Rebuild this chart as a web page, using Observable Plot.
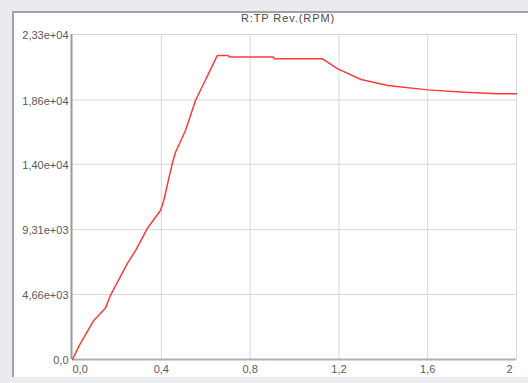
<!DOCTYPE html>
<html>
<head>
<meta charset="utf-8">
<script src="https://cdn.jsdelivr.net/npm/d3@7"></script>
<script src="https://cdn.jsdelivr.net/npm/@observablehq/plot@0.6"></script>
<style>
  html, body { margin: 0; padding: 0; }
  body { width: 528px; height: 383px; background: #ebebef; position: relative; overflow: hidden; font-family: "Liberation Sans", Arial, sans-serif; }
  #panel { position: absolute; left: 12px; top: 11px; width: 516px; height: 366px; background: #fff; border-top: 2px solid #a2a2a6; border-left: 2px solid #a2a2a6; box-sizing: border-box; }
  #chart { position: absolute; left: 0; top: 0; }
  #title { position: absolute; left: 0; width: 576px; top: 12px; text-align: center; font-size: 11px; letter-spacing: 0.9px; color: #4a4a4a; }
</style>
</head>
<body>
<div id="panel"></div>
<div id="title">R:TP Rev.(RPM)</div>
<div id="chart"></div>
<script>
// Time axis (s) and R:TP Rev. (RPM) values
const timeValues = [0, 0.03, 0.096, 0.149, 0.171, 0.246, 0.284, 0.336, 0.396, 0.411, 0.449, 0.464, 0.509, 0.554, 0.652, 0.700, 0.710, 0.905, 0.910, 1.126, 1.195, 1.300, 1.420, 1.600, 1.766, 1.916, 2.0];
const rpmValues  = [0, 1000, 2800, 3700, 4600, 6860, 7810, 9370, 10680, 11400, 14030, 14860, 16420, 18570, 21790, 21790, 21680, 21680, 21560, 21560, 20840, 20070, 19640, 19330, 19160, 19050, 19050];

const yTicks = [0, 4660, 9310, 14000, 18600, 23300];
const yTickLabels = ["0,0", "4,66e+03", "9,31e+03", "1,40e+04", "1,86e+04", "2,33e+04"];
const xTicks = [0, 0.4, 0.8, 1.2, 1.6, 2];
const xTickLabels = ["0,0", "0,4", "0,8", "1,2", "1,6", "2"];

const series = timeValues.map((t, i) => ({t, v: rpmValues[i]}));
const xLab = xTicks.map((t, i) => ({t, label: xTickLabels[i], i}));
const yLab = yTicks.map((v, i) => ({v, label: yTickLabels[i]}));

const chart = Plot.plot({
  width: 528,
  height: 383,
  marginLeft: 72,
  marginRight: 12,
  marginTop: 34,
  marginBottom: 24,
  style: {background: "transparent", fontFamily: "'Liberation Sans', Arial, sans-serif", fontSize: "11px"},
  x: {domain: [0, 2], axis: null},
  y: {domain: [0, 23300], axis: null},
  marks: [
    Plot.ruleX(xTicks.slice(1), {stroke: "#d8d8d8", strokeWidth: 1}),
    Plot.ruleY(yTicks.slice(1), {stroke: "#d8d8d8", strokeWidth: 1}),
    Plot.ruleX([0], {stroke: "#9a9a9a", strokeWidth: 2, dx: -1, y1: 0, y2: 23300}),
    Plot.ruleY([0], {stroke: "#b0b0b0", strokeWidth: 2, x1: 0, x2: 2}),
    Plot.line(series, {x: "t", y: "v", stroke: "#ff3a3a", strokeWidth: 1.5, curve: "linear"}),
    Plot.text(yLab, {x: 0, y: "v", text: "label", textAnchor: "end", dx: -4, dy: 1, fill: "#5a5a5a", fontSize: 11}),
    Plot.text(xLab.filter(d => d.i === 0), {x: "t", y: 0, text: "label", textAnchor: "start", dy: 10, fill: "#5a5a5a", fontSize: 11}),
    Plot.text(xLab.filter(d => d.i > 0 && d.i < xTicks.length - 1), {x: "t", y: 0, text: "label", textAnchor: "middle", dy: 10, fill: "#5a5a5a", fontSize: 11}),
    Plot.text(xLab.filter(d => d.i === xTicks.length - 1), {x: "t", y: 0, text: "label", textAnchor: "end", dx: -4, dy: 10, fill: "#5a5a5a", fontSize: 11})
  ]
});
document.getElementById("chart").appendChild(chart);
</script>
</body>
</html>
